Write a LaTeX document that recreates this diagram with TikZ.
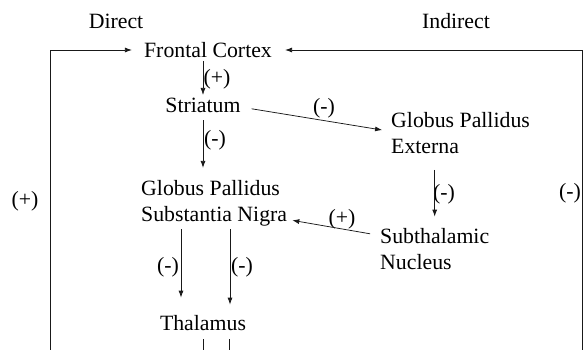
\documentclass[tikz,border=0pt]{standalone}
\usepackage{fontspec}
\setmainfont{Liberation Serif}
\usepackage{tikz}
\usetikzlibrary{arrows.meta,positioning}

\begin{document}
\begin{tikzpicture}[x=1pt,y=-1pt,font=\fontsize{21.8}{26}\selectfont,
 lbl/.style={inner sep=3pt},
 blk/.style={inner sep=3pt,align=left,anchor=west},
 sgn/.style={inner sep=0pt},
 ln/.style={draw=black!90,line width=0.75pt},
 arr/.style={ln,-{Latex[length=7pt,width=5pt]}}]
\useasboundingbox (0,0) rectangle (587,350);
\node (direct) at (116,21.5) {Direct};
\node (indirect) at (456,21.5) {Indirect};
\node[lbl] (cortex) at (208,50) {Frontal Cortex};
\node[lbl] (striatum) at (203,105.5) {Striatum};
\node[blk] (gpe) at (388,133) {Globus Pallidus\\Externa};
\node[blk] (gpsn) at (138,203) {Globus Pallidus\\Substantia Nigra};
\node[blk] (stn) at (377,249.5) {Subthalamic\\Nucleus};
\node[lbl] (thal) at (203,323.5) {Thalamus};
\coordinate (fbl) at (50,350);
\coordinate (fbr) at (582,350);
\coordinate (outl) at (203,350);
\coordinate (outr) at (229,350);
% signs
\node[sgn] (s1) at (217,79) {(+)};
\node[sgn] (s2) at (215,140) {(-)};
\node[sgn] (s3) at (324,108) {(-)};
\node[sgn] (s4) at (444,194) {(-)};
\node[sgn] (s5) at (342,219) {(+)};
\node[sgn] (s6) at (168,267) {(-)};
\node[sgn] (s7) at (242,267) {(-)};
\node[sgn] (s8) at (25,201) {(+)};
\node[sgn] (s9) at (570,193) {(-)};
% connections
\draw[arr,shorten >=9pt] (fbl) |- (cortex.west);
\draw[arr,shorten >=10pt] (fbr) |- (cortex.east);
\draw[arr] (cortex.south -| striatum) -- (striatum);
\draw[arr,shorten <=4pt,shorten >=9pt] (striatum.south) -- (striatum.south |- gpsn.north);
\draw[arr,shorten <=8pt,shorten >=6pt] ([yshift=-2pt]striatum.east) -- ([yshift=2pt]gpe.west);
\draw[arr,shorten <=13pt,shorten >=9pt] (gpe.south -| stn.north) -- (stn.north);
\draw[arr,shorten <=7pt,shorten >=2pt] ([yshift=14.5pt]stn.west) -- ([yshift=-17pt]gpsn.east);
\draw[arr,shorten >=15pt] ([xshift=-22pt]thal.north |- gpsn.south) -- ([xshift=-22pt]thal.north);
\draw[arr,shorten >=8pt] ([xshift=27pt]thal.north |- gpsn.south) -- ([xshift=27pt]thal.north);
\draw[ln,shorten <=5pt] (thal.south) -- (outl);
\draw[ln,shorten <=5pt] ([xshift=26pt]thal.south) -- (outr);
\end{tikzpicture}
\end{document}
